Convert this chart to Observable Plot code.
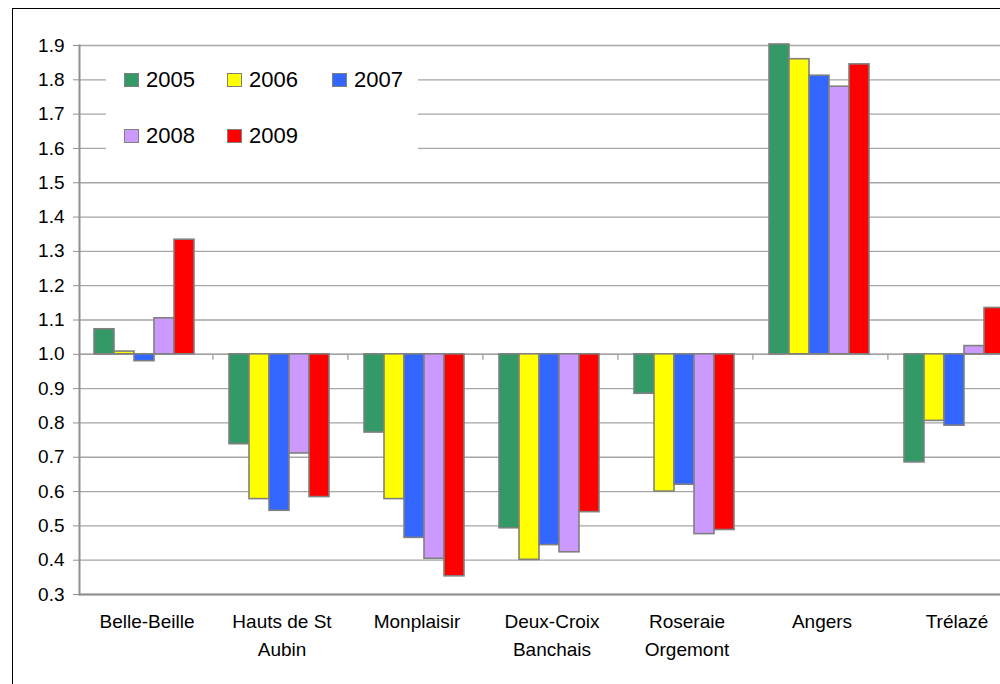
<!DOCTYPE html>
<html>
<head>
<meta charset="utf-8">
<script src="https://cdn.jsdelivr.net/npm/d3@7"></script>
<script src="https://cdn.jsdelivr.net/npm/@observablehq/plot@0.6"></script>
<style>
  html, body { margin: 0; padding: 0; background: #fff; overflow: hidden; width: 1000px; height: 684px; }
  #wrap { position: relative; width: 1000px; height: 684px; overflow: hidden; }
  #border { position: absolute; left: 12px; top: 8px; width: 1100px; height: 800px; border: 1.5px solid #000; box-sizing: border-box; }
  #chart { position: absolute; left: 0; top: 0; width: 1040px; }
  #chart svg { max-width: none !important; }
  #legend { position: absolute; left: 106px; top: 54px; width: 312px; height: 112px; background: #fff; font-family: "Liberation Sans", Arial, sans-serif; font-size: 22px; color: #000; }
  .item { position: absolute; display: flex; align-items: center; height: 26px; }
  .sw { width: 13px; height: 12px; border: 1.5px solid #808080; margin-right: 7px; }
</style>
</head>
<body>
<div id="wrap">
  <div id="border"></div>
  <div id="chart"></div>
  <div id="legend"></div>
</div>
<script>
const categories = ["Belle-Beille", "Hauts de St Aubin", "Monplaisir", "Deux-Croix Banchais", "Roseraie Orgemont", "Angers", "Trélazé"];
const categoryLabels = ["Belle-Beille", "Hauts de St\nAubin", "Monplaisir", "Deux-Croix\nBanchais", "Roseraie\nOrgemont", "Angers", "Trélazé"];
const years = ["2005", "2006", "2007", "2008", "2009"];
const colors = ["#339966", "#FFFF00", "#3366FF", "#CC99FF", "#FF0000"];
const v2005 = [1.073, 0.738, 0.772, 0.493, 0.885, 1.903, 0.685];
const v2006 = [1.008, 0.578, 0.578, 0.401, 0.600, 1.860, 0.806];
const v2007 = [0.980, 0.544, 0.465, 0.444, 0.620, 1.812, 0.792];
const v2008 = [1.105, 0.711, 0.404, 0.423, 0.476, 1.780, 1.024];
const v2009 = [1.334, 0.584, 0.353, 0.540, 0.488, 1.845, 1.135];
const yTicks = [0.3, 0.4, 0.5, 0.6, 0.7, 0.8, 0.9, 1.0, 1.1, 1.2, 1.3, 1.4, 1.5, 1.6, 1.7, 1.8, 1.9];
const baseline = 1.0;

const series = [v2005, v2006, v2007, v2008, v2009];
const data = [];
categories.forEach((c, i) => years.forEach((y, j) => data.push({category: c, year: y, value: series[j][i]})));
const labelOf = new Map(categories.map((c, i) => [c, categoryLabels[i]]));

const font = '"Liberation Sans", Arial, sans-serif';

const chart = Plot.plot({
  width: 1040,
  height: 684,
  marginTop: 45,
  marginBottom: 90,
  marginLeft: 77,
  marginRight: 14.5,
  style: {fontFamily: font, fontSize: "19px", color: "#000", background: "transparent", overflow: "visible", maxWidth: "none"},
  fx: {domain: categories, padding: 0, axis: null, label: null},
  x: {domain: years, paddingInner: 0, paddingOuter: 0.773, align: 0.43, axis: null},
  y: {domain: [0.3, 1.9], ticks: yTicks, axis: null, label: null},
  color: {domain: years, range: colors},
  marks: [
    Plot.gridY(yTicks, {stroke: "#a6a6a6", strokeOpacity: 1, strokeWidth: 1.3}),
    Plot.ruleY([baseline], {stroke: "#a0a0a0", strokeWidth: 1.5}),
    Plot.ruleY([yTicks[0]], {stroke: "#909090", strokeWidth: 2}),
    Plot.frame({anchor: "left", facetAnchor: "left", stroke: "#909090", strokeWidth: 2}),
    Plot.barY(data, {fx: "category", x: "year", y1: baseline, y2: "value", fill: "year", stroke: "#808080", strokeWidth: 1.6}),
    Plot.ruleX(categories.slice(1).map(c => ({category: c})), {fx: "category", x: () => years[0], y1: baseline, y2: baseline, insetBottom: -6, dx: -26.6, stroke: "#a0a0a0", strokeWidth: 1.3}),
    Plot.axisY(yTicks, {anchor: "left", label: null, tickSize: 6, tickPadding: 9, tickFormat: d3.format(".1f"), stroke: "#909090", fontSize: 19, fill: "#000"}),
    Plot.axisFx({anchor: "bottom", label: null, tickSize: 0, tickPadding: 14, tickFormat: d => labelOf.get(d), fontSize: 19, lineHeight: 1.45, fill: "#000"})
  ]
});
document.getElementById("chart").appendChild(chart);

const legend = document.getElementById("legend");
const slots = [[18, 13], [121, 13], [226, 13], [18, 69], [121, 69]];
years.forEach((y, i) => {
  const it = document.createElement("div");
  it.className = "item";
  it.style.left = slots[i][0] + "px";
  it.style.top = slots[i][1] + "px";
  const sw = document.createElement("div");
  sw.className = "sw";
  sw.style.background = colors[i];
  const t = document.createElement("span");
  t.textContent = y;
  it.appendChild(sw);
  it.appendChild(t);
  legend.appendChild(it);
});
</script>
</body>
</html>
